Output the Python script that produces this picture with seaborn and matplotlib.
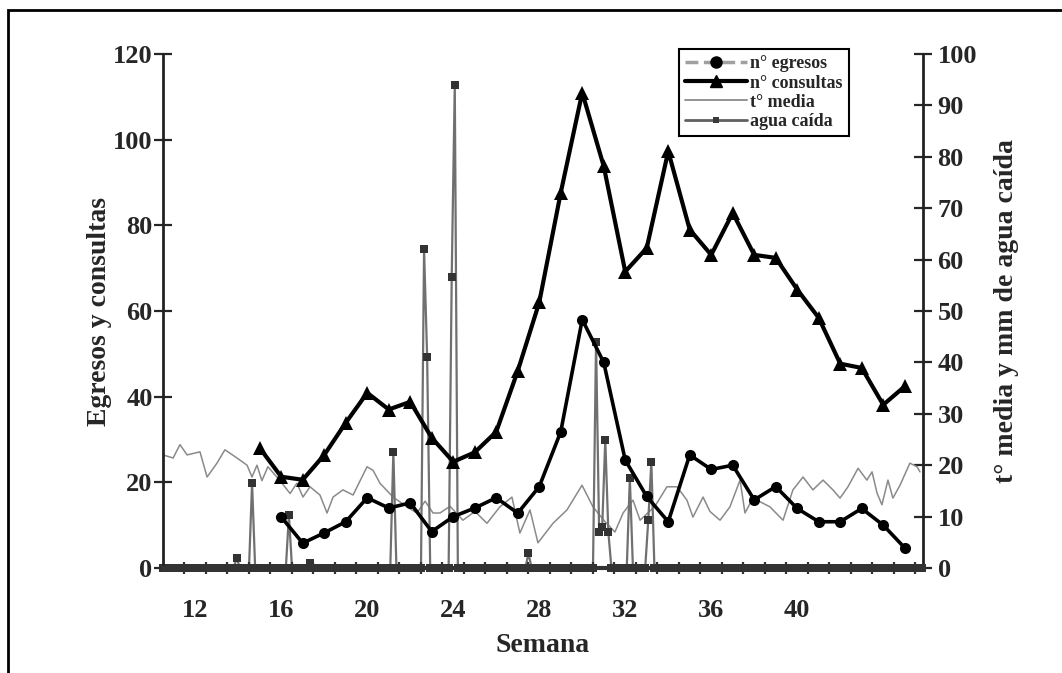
import numpy as np
import pandas as pd
import matplotlib
matplotlib.use("Agg")
import matplotlib.pyplot as plt
import seaborn as sns
from matplotlib.lines import Line2D
from matplotlib.patches import Rectangle

# ---------------- data ----------------
weeks_egr = list(range(16, 46))
egresos = [11.9, 5.8, 8.2, 10.8, 16.4, 14.0, 15.2, 8.5, 12.0, 14.0, 16.4, 12.8, 19.0, 31.8, 58.0,
           48.0, 25.2, 16.7, 10.8, 26.4, 23.0, 24.0, 15.9, 19.0, 13.9, 10.8, 10.8, 13.9, 10.0, 4.7]

weeks_cons = list(range(15, 46))
consultas = [28.0, 21.3, 20.6, 26.4, 33.9, 40.9, 37.0, 38.8, 30.4, 24.8, 27.0, 31.8, 46.0, 62.0, 87.6,
             111.0, 93.8, 69.2, 74.7, 97.3, 79.0, 73.1, 82.9, 73.1, 72.4, 65.0, 58.4, 47.7, 46.7, 38.1, 42.4]

temp_weeks = [10.5, 10.97, 11.29, 11.62, 12.22, 12.55, 13.01, 13.38, 13.94, 14.41, 14.64, 14.87, 15.10,
              15.38, 15.94, 16.41, 16.73, 17.01, 17.34, 17.80, 18.13, 18.41, 18.87, 19.34, 19.99, 20.27,
              20.59, 21.20, 21.85, 22.31, 22.69, 23.06, 23.38, 23.85, 24.45, 25.01, 25.57, 26.17, 26.73,
              27.10, 27.57, 27.94, 28.64, 29.29, 29.99, 30.50, 31.06, 31.52, 31.90, 32.36, 32.69, 33.38,
              33.94, 34.41, 34.87, 35.15, 35.62, 35.94, 36.41, 36.87, 37.34, 37.57, 37.94, 38.73, 39.34,
              39.80, 40.27, 40.73, 41.20, 41.66, 41.99, 42.36, 42.83, 43.24, 43.48, 43.71, 43.94, 44.22,
              44.45, 44.78, 45.24, 45.57, 45.71]
temp_media = [22.0, 21.4, 24.0, 22.0, 22.6, 17.7, 20.4, 23.0, 21.4, 20.0, 17.7, 20.0, 17.0,
              19.7, 17.0, 14.5, 16.5, 13.8, 15.8, 14.2, 10.7, 13.8, 15.2, 14.2, 19.7, 19.0,
              16.5, 13.8, 11.9, 10.7, 13.0, 10.7, 10.7, 12.0, 9.3, 11.0, 8.7, 11.9, 13.8,
              6.8, 11.3, 4.9, 8.7, 11.3, 16.1, 11.9, 9.0, 7.0, 10.7, 13.2, 9.3, 12.0,
              15.8, 15.8, 13.2, 9.9, 13.8, 11.0, 9.3, 11.9, 17.1, 10.7, 13.6, 11.9, 9.3,
              15.2, 17.7, 15.2, 17.1, 15.2, 13.6, 15.8, 19.4, 17.1, 18.7, 14.6, 12.3, 17.1,
              13.6, 16.1, 20.4, 19.7, 18.7]

# rainy days (all other days of the period had 0 mm)
rain_weeks = [14.0, 14.64, 16.31, 17.3, 21.2, 22.64, 22.79, 23.93, 24.07, 27.5,
              30.64, 30.79, 30.93, 31.07, 31.21, 32.17, 33.07, 33.21]
rain_mm = [2.0, 16.5, 10.3, 1.0, 22.6, 62.0, 41.0, 56.6, 94.0, 2.9,
           44.0, 7.0, 8.0, 25.0, 7.0, 17.5, 9.3, 20.6]

x_labels = [12, 16, 20, 24, 28, 32, 36, 40]

# daily calendar of the period (weeks as fractional numbers)
day_weeks = 10.5 + np.arange(0, 248) / 7.0
day_weeks = day_weeks[day_weeks <= 45.85]
rain_daily = np.zeros(len(day_weeks))
for w, v in zip(rain_weeks, rain_mm):
    rain_daily[np.argmin(np.abs(day_weeks - w))] = v

df_egr = pd.DataFrame({"semana": weeks_egr, "valor": egresos})
df_cons = pd.DataFrame({"semana": weeks_cons, "valor": consultas})
df_temp = pd.DataFrame({"semana": temp_weeks, "valor": temp_media})
df_rain = pd.DataFrame({"semana": day_weeks, "valor": rain_daily})

# ---------------- style ----------------
sns.set_theme(style="ticks")
plt.rcParams["font.family"] = ["Liberation Serif", "DejaVu Serif"]
plt.rcParams["font.weight"] = "bold"
plt.rcParams["axes.labelweight"] = "bold"

fig = plt.figure(figsize=(10.62, 6.73), dpi=100)
ax = fig.add_axes([163 / 1062, 1 - 568 / 673, (923 - 163) / 1062, (568 - 54) / 673])
ax2 = ax.twinx()

# right axis series
sns.lineplot(data=df_temp, x="semana", y="valor", ax=ax2, color="#8a8a8a", lw=1.1, zorder=2)
sns.lineplot(data=df_rain, x="semana", y="valor", ax=ax2, color="#707070", lw=1.6,
             marker="s", markersize=5.5, markeredgewidth=0, markerfacecolor="#333333", zorder=3)
for ln in ax2.lines:
    ln.set_clip_on(False)

# left axis series
sns.lineplot(data=df_cons, x="semana", y="valor", ax=ax, color="black", lw=3,
             marker="^", markersize=10, markeredgewidth=0, zorder=5)
sns.lineplot(data=df_egr, x="semana", y="valor", ax=ax, color="black", lw=2.6,
             marker="o", markersize=8, markeredgewidth=0, zorder=5)

ax.set_zorder(ax2.get_zorder() + 1)
ax.patch.set_visible(False)

ax.set_xlim(10.5, 45.85)
ax.set_ylim(0, 120)
ax2.set_ylim(0, 100)

ax.set_xticks(x_labels)
ax.set_xticklabels([str(v) for v in x_labels])
ax.set_xticks(np.arange(11.5, 45.6, 1.0), minor=True)
ax.tick_params(axis="x", which="major", length=0, pad=22, labelsize=19)
ax.tick_params(axis="x", which="minor", length=9, width=1.6, direction="inout", color="#333333")

ax.set_yticks(np.arange(0, 121, 20))
ax.tick_params(axis="y", which="major", length=13, width=1.6, direction="inout", labelsize=19, pad=1)
ax2.set_yticks(np.arange(0, 101, 10))
ax2.tick_params(axis="y", which="major", length=13, width=1.6, direction="inout", labelsize=19, pad=4)

for a in (ax, ax2):
    for s in a.spines.values():
        s.set_visible(False)
ax.spines["left"].set_visible(True)
ax.spines["left"].set_linewidth(2)
ax.spines["left"].set_color("#222222")
ax2.spines["right"].set_visible(True)
ax2.spines["right"].set_linewidth(2)
ax2.spines["right"].set_color("#222222")
ax.spines["bottom"].set_visible(True)
ax.spines["bottom"].set_linewidth(3)
ax.spines["bottom"].set_color("#333333")

ax.set_xlabel("Semana", fontsize=20, fontweight="bold", labelpad=8)
ax.set_ylabel("Egresos y consultas", fontsize=20, fontweight="bold", labelpad=1)
ax2.set_ylabel("t° media y mm de agua caída", fontsize=20, fontweight="bold", labelpad=12)
ax2.yaxis.set_label_position("right")

for lab in ax.get_xticklabels() + ax.get_yticklabels() + ax2.get_yticklabels():
    lab.set_fontweight("bold")

handles = [
    Line2D([], [], color="#a0a0a0", ls="--", lw=2.5, marker="o", markersize=8,
           markerfacecolor="black", markeredgecolor="black"),
    Line2D([], [], color="black", lw=3, marker="^", markersize=9),
    Line2D([], [], color="#8a8a8a", lw=1.3),
    Line2D([], [], color="#606060", lw=2, marker="s", markersize=5,
           markerfacecolor="#3a3a3a", markeredgewidth=0),
]
labels = ["n° egresos", "n° consultas", "t° media", "agua caída"]
leg = fig.legend(handles, labels, loc="upper left", bbox_to_anchor=(670 / 1062, 1 - 40 / 673),
                 frameon=True, fancybox=False, edgecolor="black", framealpha=1,
                 prop={"family": "Liberation Serif", "weight": "bold", "size": 13},
                 handlelength=3.4, handletextpad=0.2, labelspacing=0.12, borderpad=0.35)
leg.get_frame().set_linewidth(1.5)

fig.patches.append(Rectangle((8 / 1062, -0.05), 1.2, 1 - 10 / 673 + 0.05, transform=fig.transFigure,
                             fill=False, lw=2, edgecolor="black"))

fig.savefig("out.png", dpi=100)
